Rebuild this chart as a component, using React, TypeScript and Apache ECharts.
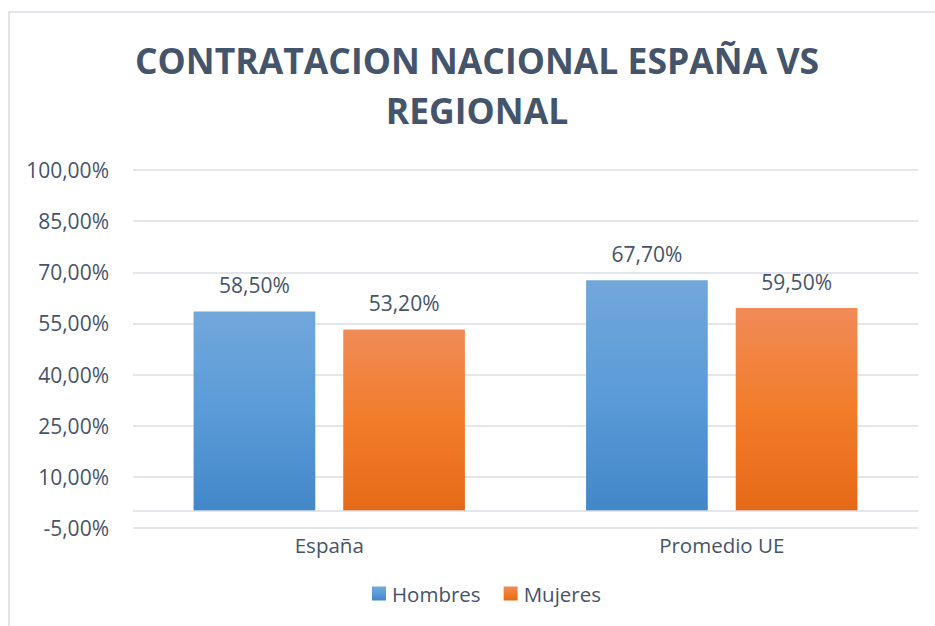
import React, { useEffect, useRef } from "react";
import * as echarts from "echarts";

const categories = ["España", "Promedio UE"];
const hombres = [58.5, 67.7];
const mujeres = [53.2, 59.5];
const seriesNames = ["Hombres", "Mujeres"];
const titleText = "CONTRATACION NACIONAL ESPAÑA VS\nREGIONAL";
const axisMin = -5;
const axisMax = 100;
const tickStep = 15;

const FONT = "'Open Sans', sans-serif";
const TEXT = "#44546A";
const GRID = "#dadee4";

const fmt = (v: number) => v.toFixed(2).replace(".", ",") + "%";

export default function App() {
  const ref = useRef<HTMLDivElement>(null);
  useEffect(() => {
    document.body.style.margin = "0";
    const chart = echarts.init(ref.current!, undefined, { renderer: "svg" });
    const blue = new echarts.graphic.LinearGradient(0, 0, 0, 1, [
      { offset: 0, color: "#72a7db" },
      { offset: 0.5, color: "#5a9bd8" },
      { offset: 1, color: "#4387c8" },
    ]);
    const orange = new echarts.graphic.LinearGradient(0, 0, 0, 1, [
      { offset: 0, color: "#f08b57" },
      { offset: 0.5, color: "#f27c2a" },
      { offset: 1, color: "#e56a17" },
    ]);
    const label = {
      show: true,
      position: "top",
      distance: 16,
      color: TEXT,
      fontFamily: FONT,
      fontSize: 21,
      formatter: (p: any) => fmt(p.value),
    };
    chart.setOption({
      animation: false,
      graphic: [
        {
          type: "rect",
          shape: { x: 9, y: 12, width: 1000, height: 800 },
          style: { fill: "none", stroke: "#d9dee4", lineWidth: 1.5 },
          silent: true,
        },
      ],
      title: {
        text: titleText,
        left: 472,
        textAlign: "center",
        top: 30,
        textStyle: {
          color: TEXT,
          fontFamily: FONT,
          fontWeight: "bold",
          fontSize: 35.5,
          lineHeight: 50,
        },
      },
      legend: {
        data: seriesNames,
        bottom: 17,
        left: 367,
        itemWidth: 14,
        itemHeight: 14,
        itemGap: 23,
        icon: "rect",
        textStyle: { color: TEXT, fontFamily: FONT, fontSize: 20.5, padding: [0, 0, 0, 1] },
      },
      grid: { left: 133, right: 17, top: 170, bottom: 98, containLabel: false },
      xAxis: {
        type: "category",
        data: categories,
        axisLine: { show: false, onZero: false },
        axisTick: { show: false },
        axisLabel: { color: TEXT, fontFamily: FONT, fontSize: 20.5, margin: 6 },
      },
      yAxis: [
        {
          type: "value",
          min: axisMin,
          max: axisMax,
          show: false,
          splitLine: { show: false },
        },
        {
          type: "value",
          position: "left",
          min: 0,
          max: axisMax - axisMin,
          interval: tickStep,
          axisLine: { show: false },
          axisTick: { show: false },
          splitLine: { show: true, lineStyle: { color: GRID, width: 1.5 } },
          axisLabel: {
            color: TEXT,
            fontFamily: FONT,
            fontSize: 21,
            margin: 24,
            formatter: (v: number) => fmt(v + axisMin),
          },
        },
      ],
      series: [
        {
          name: seriesNames[0],
          type: "bar",
          yAxisIndex: 0,
          data: hombres,
          barWidth: "31%",
          barGap: "23%",
          itemStyle: { color: blue },
          label,
          markLine: {
            silent: true,
            symbol: "none",
            label: { show: false },
            lineStyle: { color: GRID, width: 1.5, type: "solid" },
            data: [{ yAxis: 0 }],
          },
        },
        {
          name: seriesNames[1],
          type: "bar",
          yAxisIndex: 0,
          data: mujeres,
          barWidth: "31%",
          barGap: "23%",
          itemStyle: { color: orange },
          label,
        },
      ],
    });
    return () => chart.dispose();
  }, []);
  return <div ref={ref} style={{ width: 935, height: 626 }} />;
}
